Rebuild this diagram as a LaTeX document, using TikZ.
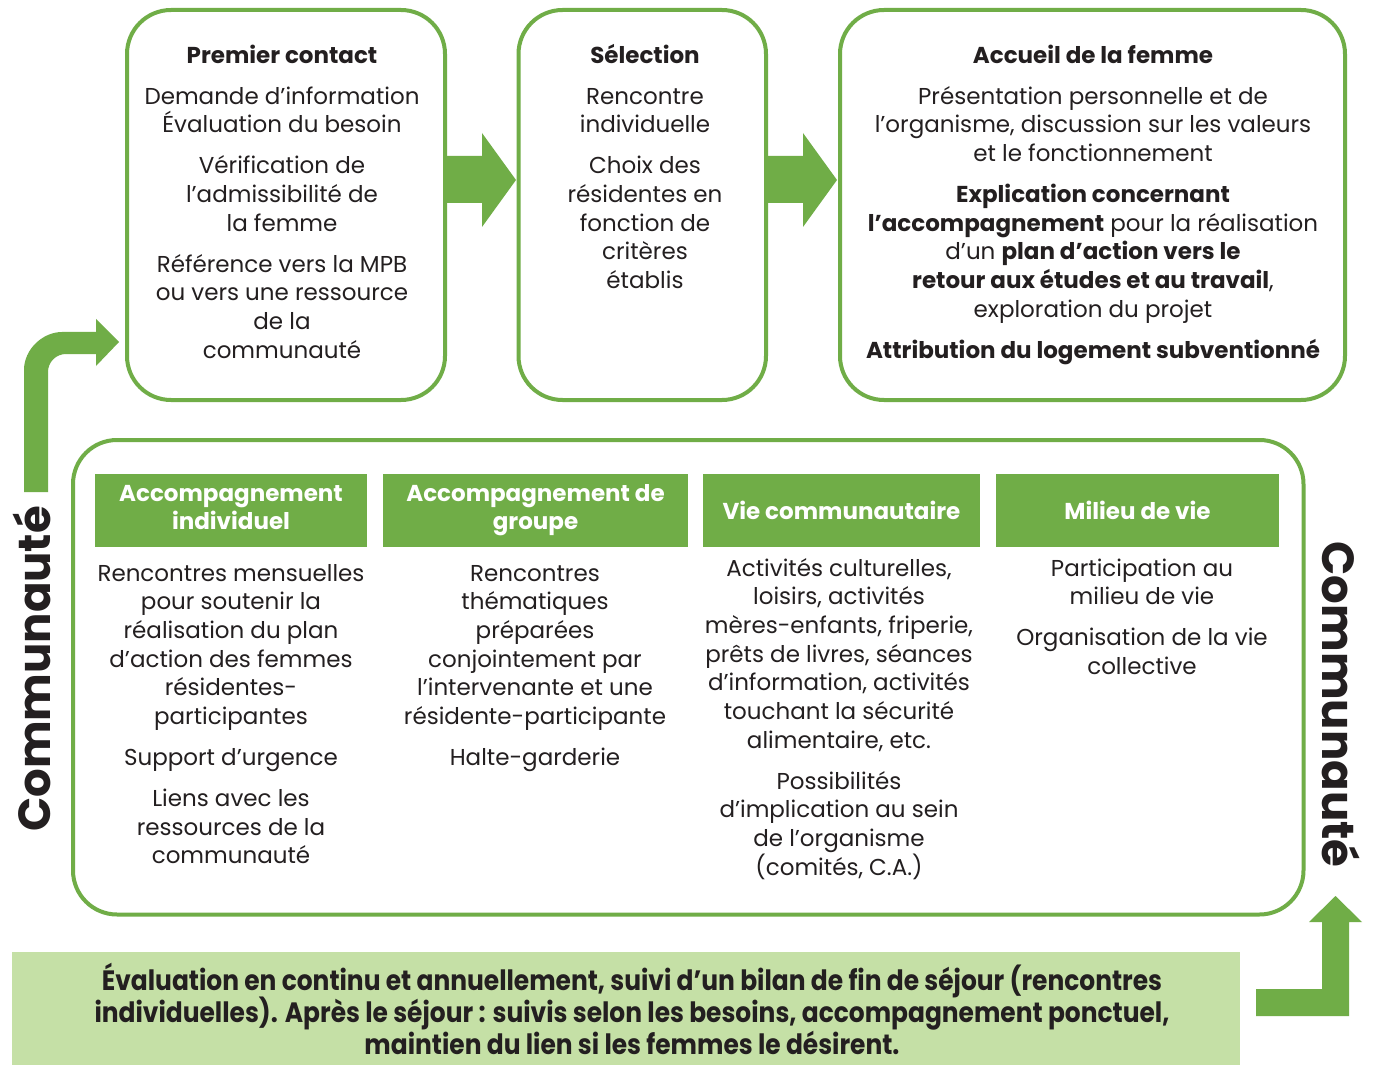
\documentclass[tikz,border=0pt]{standalone}
\usepackage{fontspec}
\setmainfont{Poppins}
\newfontfamily\condfont[FakeStretch=0.89]{Poppins}
\definecolor{grn}{HTML}{70AD47}
\definecolor{lgrn}{HTML}{C5E0A6}
\definecolor{txt}{HTML}{231F20}
\newcommand{\pg}{\\[6.15pt]}
\newcommand{\tightlines}{\lineskiplimit=-20pt\relax\lineskip=0pt\relax}
\begin{document}
\begin{tikzpicture}[x=0.5pt,y=-0.5pt,
  stage/.style={draw=grn, line width=2pt, rounded corners=22pt, inner sep=0pt, outer sep=0pt},
  body/.style={align=center, inner sep=0pt, text=txt, font=\fontsize{11.5}{14.35}\selectfont, anchor=base},
  headbox/.style={fill=grn, text=white, font=\bfseries\fontsize{11.5}{14}\selectfont, align=center, inner sep=0pt, minimum height=36.5pt},
  side/.style={text=txt, font=\bfseries\fontsize{22.5}{27}\selectfont, inner sep=0pt, anchor=base},
  barrow/.style={fill=grn}
]
\useasboundingbox (0,0) rectangle (1373,1065);
\fill[white] (0,0) rectangle (1373,1065);

% top stage boxes
\node[stage, minimum width=159pt, minimum height=195pt] (b1) at (286,205) {};
\node[stage, minimum width=123.75pt, minimum height=195pt] (b2) at (642.25,205) {};
\node[stage, minimum width=252.5pt, minimum height=195pt] (b3) at (1092.5,205) {};

% block arrows between boxes
\fill[barrow] (447,156) -- (482,156) -- (482,133) -- (516,180) -- (482,227) -- (482,203) -- (447,203) -- cycle;
\fill[barrow] (768,156) -- (803,156) -- (803,133) -- (837,180) -- (803,227) -- (803,203) -- (768,203) -- cycle;

% texts of top boxes (anchor = baseline of last line)
\node[body] (t1) at (282,358.2) {\textbf{Premier contact}\pg
Demande d’information\\
Évaluation du besoin\pg
Vérification de\\
l’admissibilité de\\
la femme\pg
Référence vers la MPB\\
ou vers une ressource\\
de la\\
communauté};

\node[body] (t2) at (645,288.5) {\textbf{Sélection}\pg
Rencontre\\
individuelle\pg
Choix des\\
résidentes en\\
fonction de\\
critères\\
établis};

\node[body] (t3) at (1093,358.2) {\textbf{Accueil de la femme}\pg
Présentation personnelle et de\\
l’organisme, discussion sur les valeurs\\
et le fonctionnement\pg
\textbf{Explication concernant}\\
\textbf{l’accompagnement} pour la réalisation\\
d’un \textbf{plan d’action vers le}\\
\textbf{retour aux études et au travail},\\
exploration du projet\pg
\textbf{Attribution du logement subventionné}};

% big bottom box
\node[stage, minimum width=615.25pt, minimum height=237.25pt] (big) at (688.25,677.25) {};

% headers
\node[headbox, minimum width=136pt] (h1) at (231,510.5) {Accompagnement\\individuel\vphantom{p}};
\node[headbox, minimum width=152.5pt] (h2) at (535.5,510.5) {Accompagnement de\\groupe};
\node[headbox, minimum width=138.5pt] (h3) at (841.5,510.5) {Vie communautaire};
\node[headbox, minimum width=141.5pt] (h4) at (1137.5,510.5) {Milieu de vie};

% column texts
\node[body] (c1) at (231,863.9) {Rencontres mensuelles\\
pour soutenir la\\
réalisation du plan\\
d’action des femmes\\
résidentes-\\
participantes\pg
Support d’urgence\pg
Liens avec les\\
ressources de la\\
communauté};

\node[body] (c2) at (535,765.5) {Rencontres\\
thématiques\\
préparées\\
conjointement par\\
l’intervenante et une\\
résidente-participante\pg
Halte-garderie};

\node[body] (c3) at (839,875.3) {Activités culturelles,\\
loisirs, activités\\
mères-enfants, friperie,\\
prêts de livres, séances\\
d’information, activités\\
touchant la sécurité\\
alimentaire, etc.\pg
Possibilités\\
d’implication au sein\\
de l’organisme\\
(comités, C.A.)};

\node[body] (c4) at (1142,674.4) {Participation au\\
milieu de vie\pg
Organisation de la vie\\
collective};

% bottom light box
\node[fill=lgrn, minimum width=614pt, minimum height=56.5pt, inner sep=0pt] (ev) at (626,1008.5) {};
\node[align=center, inner sep=0pt, text=txt, font=\condfont\bfseries\fontsize{14}{16}\selectfont\tightlines, anchor=base] (evt) at (632,1054)
{Évaluation en continu et annuellement, suivi d’un bilan de fin de séjour (rencontres\\
individuelles). Après le séjour : suivis selon les besoins, accompagnement ponctuel,\\
maintien du lien si les femmes le désirent.};

% left curved arrow
\fill[barrow] (24,492) -- (24,370) .. controls (24,349) and (43,332) .. (62,332)
  -- (96,332) -- (96,319) -- (119,342) -- (96,366) -- (96,354)
  -- (66,354) .. controls (56,354) and (48,362) .. (48,372) -- (48,492) -- cycle;

% right angled arrow
\fill[barrow] (1256,989) -- (1322,989) -- (1322,922) -- (1309,922) -- (1335.5,896) -- (1362,922) -- (1349,922) -- (1349,1016) -- (1256,1016) -- cycle;

% side labels
\node[side, rotate=90] (lcom) at (50,669) {Communauté};
\node[side, rotate=-90] (rcom) at (1322,704.5) {Communauté};
\end{tikzpicture}
\end{document}
